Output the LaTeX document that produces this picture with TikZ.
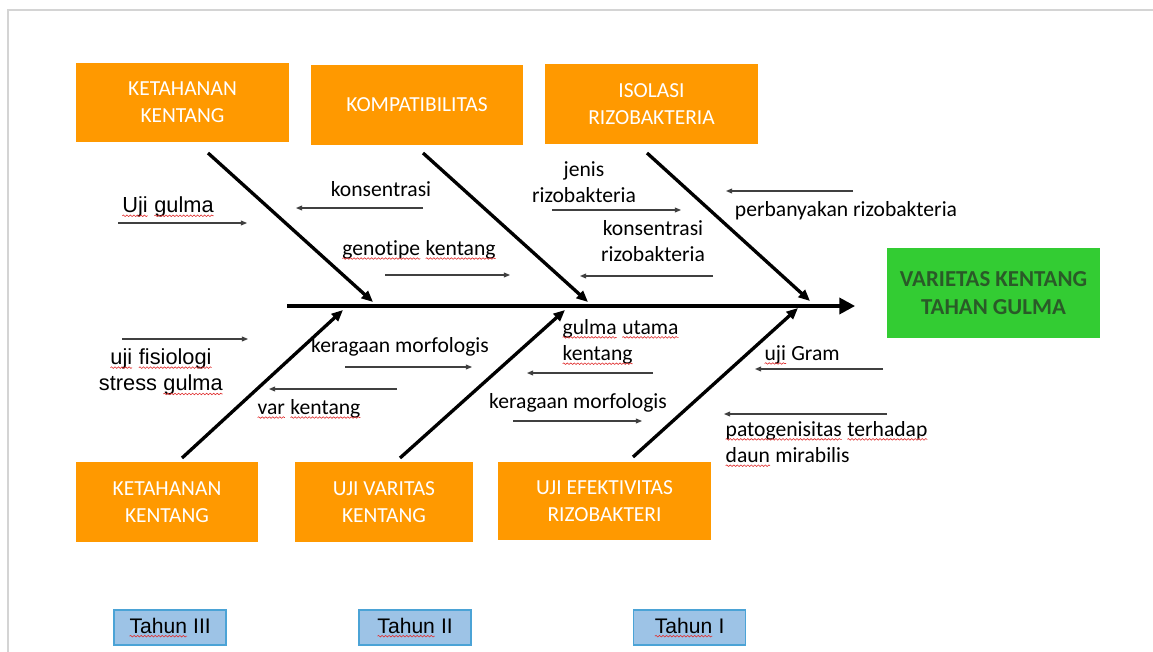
\documentclass[tikz,border=0pt]{standalone}
\usepackage{fontspec}
\setmainfont{Carlito}[Ligatures=NoCommon]
\newfontfamily\arialfont{Liberation Sans}
\usepackage{tikz}
\usetikzlibrary{arrows.meta, positioning, decorations.pathmorphing}
\definecolor{catfill}{HTML}{FF9900}
\definecolor{efffill}{HTML}{33CC33}
\definecolor{efftext}{HTML}{2A5A28}
\definecolor{yrfill}{HTML}{9DC3E6}
\definecolor{yrdraw}{HTML}{4BA3D6}
\definecolor{framegray}{HTML}{D4D4D4}
\definecolor{spellred}{HTML}{E03030}
\tikzset{
  cat/.style={rectangle, fill=catfill, text=white, align=center, font=\fontsize{12.2}{15.4}\selectfont, inner sep=0pt, minimum width=4.26cm, minimum height=1.6cm},
  eff/.style={rectangle, fill=efffill, text=efftext, align=center, font=\bfseries\fontsize{13}{15.6}\selectfont, inner sep=0pt, minimum width=4.26cm, minimum height=1.8cm},
  yr/.style={rectangle, draw=yrdraw, fill=yrfill, line width=0.6pt, font=\arialfont\fontsize{12}{14}\selectfont, inner sep=0pt, minimum width=2.24cm, minimum height=0.7cm},
  lbl/.style={align=center, font=\fontsize{12.3}{15}\selectfont, inner sep=0pt},
  albl/.style={align=center, font=\arialfont\fontsize{12.4}{15}\selectfont, inner sep=0pt},
  spine/.style={-{Triangle[length=9pt, width=9pt]}, line width=2.8pt},
  bone/.style={-{Triangle[length=6.5pt, width=5.5pt]}, line width=1.9pt},
  arr/.style={-{Triangle[length=3.5pt, width=2.8pt]}, line width=0.6pt, draw=black!75},
  sqline/.style={draw=spellred, line width=0.35pt, decorate, decoration={snake, amplitude=0.45pt, segment length=2pt}},
}
% word with a wavy spell-check underline
\newcommand{\sq}[1]{\tikz[baseline=(sqw.base)]{\node[inner sep=0pt, outer sep=0pt, minimum width=0pt, minimum height=0pt] (sqw) {#1};
  \draw[sqline] ([yshift=-1.8pt]sqw.base west) -- ([yshift=-1.8pt]sqw.base east);}}

\begin{document}
\begin{tikzpicture}[x=0.02cm, y=-0.02cm]
  \useasboundingbox (0,0) rectangle (1153,652);
  \draw[framegray, line width=0.8pt] (8,652) |- (1153,10);

  % causes, top row
  \node[cat] (ketTop) at (182.5,102.5) {KETAHANAN\\KENTANG};
  \node[cat, minimum width=4.24cm] (kompat) at (417,105) {KOMPATIBILITAS};
  \node[cat, minimum width=4.26cm] (isolasi) at (651.5,104) {ISOLASI\\RIZOBAKTERIA};
  % causes, bottom row
  \node[cat, minimum width=3.64cm] (ketBot) at (167,502) {KETAHANAN\\KENTANG};
  \node[cat, minimum width=3.56cm] (ujiVar) at (384,502) {UJI VARITAS\\KENTANG};
  \node[cat, minimum height=1.56cm] (ujiEfek) at (604.5,501) {UJI EFEKTIVITAS\\RIZOBAKTERI};
  % effect
  \node[eff] (varietas) at (993.5,293) {VARIETAS KENTANG\\TAHAN GULMA};
  % years
  \node[yr] (thn3) at (170,627.5) {\sq{Tahun} III};
  \node[yr] (thn2) at (415,627.5) {\sq{Tahun} II};
  \node[yr] (thn1) at (689.5,627.5) {\sq{Tahun} I};

  % spine and bones
  \coordinate (sp0) at (287,306);
  \draw[spine, shorten >=0.63cm] (sp0) -- (sp0 -| varietas.west);
  \foreach \n/\xa/\ya/\xb/\yb in {t1/208/153/373/302, t2/423/153/588/302, t3/647/153/810/301,
                                  b1/182/458/343/310, b2/400/458/565/310, b3/633/457/798/308}{
    \coordinate (\n s) at (\xa,\ya);
    \coordinate (\n e) at (\xb,\yb);
    \draw[bone] (\n s) -- (\n e);
  }

  % sub-causes
  \node[albl] (lUji) at (168,207) {\sq{Uji} \sq{gulma}};
  \node[lbl] (lKons) at (381,189) {konsentrasi};
  \node[lbl] (lGeno) at (419,250) {\sq{genotipe} \sq{kentang}};
  \node[lbl] (lJenis) at (584,182) {jenis\\rizobakteria};
  \node[lbl] (lKonsR) at (653,241) {konsentrasi\\rizobakteria};
  \node[lbl] (lPerb) at (846,211) {perbanyakan rizobakteria};
  \node[albl] (lFis) at (161,372) {\sq{uji} \sq{fisiologi}\\stress \sq{gulma}};
  \node[lbl] (lKerA) at (400,347) {keragaan morfologis};
  \node[lbl] (lVar) at (309,409) {\sq{var} \sq{kentang}};
  \node[lbl, anchor=west, align=left] (lGulma) at (562,342) {\sq{gulma} \sq{utama}\\\sq{kentang}};
  \node[lbl] (lKerB) at (578,403) {keragaan morfologis};
  \node[lbl] (lGram) at (802,355) {\sq{uji} Gram};
  \node[lbl, anchor=west, align=left] (lPato) at (725,444) {\sq{patogenisitas} \sq{terhadap}\\\sq{daun} mirabilis};

  % small arrows
  \foreach \n/\xa/\xb/\y in {aUji/118/247/223, aKons/423/296/208, aGeno/385/510/275,
                             aJenis/552/681/210, aKonsR/713/580/276, aPerb/853/726/191,
                             aFis/122/248/339, aKerA/345/472/367, aVar/397/269/389,
                             aGulma/653/527/373, aKerB/513/642/421, aGram/883/755/369,
                             aPato/887/724/414}{
    \coordinate (\n0) at (\xa,\y);
    \coordinate (\n1) at (\xb,\y);
    \draw[arr] (\n0) -- (\n1);
  }
\end{tikzpicture}
\end{document}
